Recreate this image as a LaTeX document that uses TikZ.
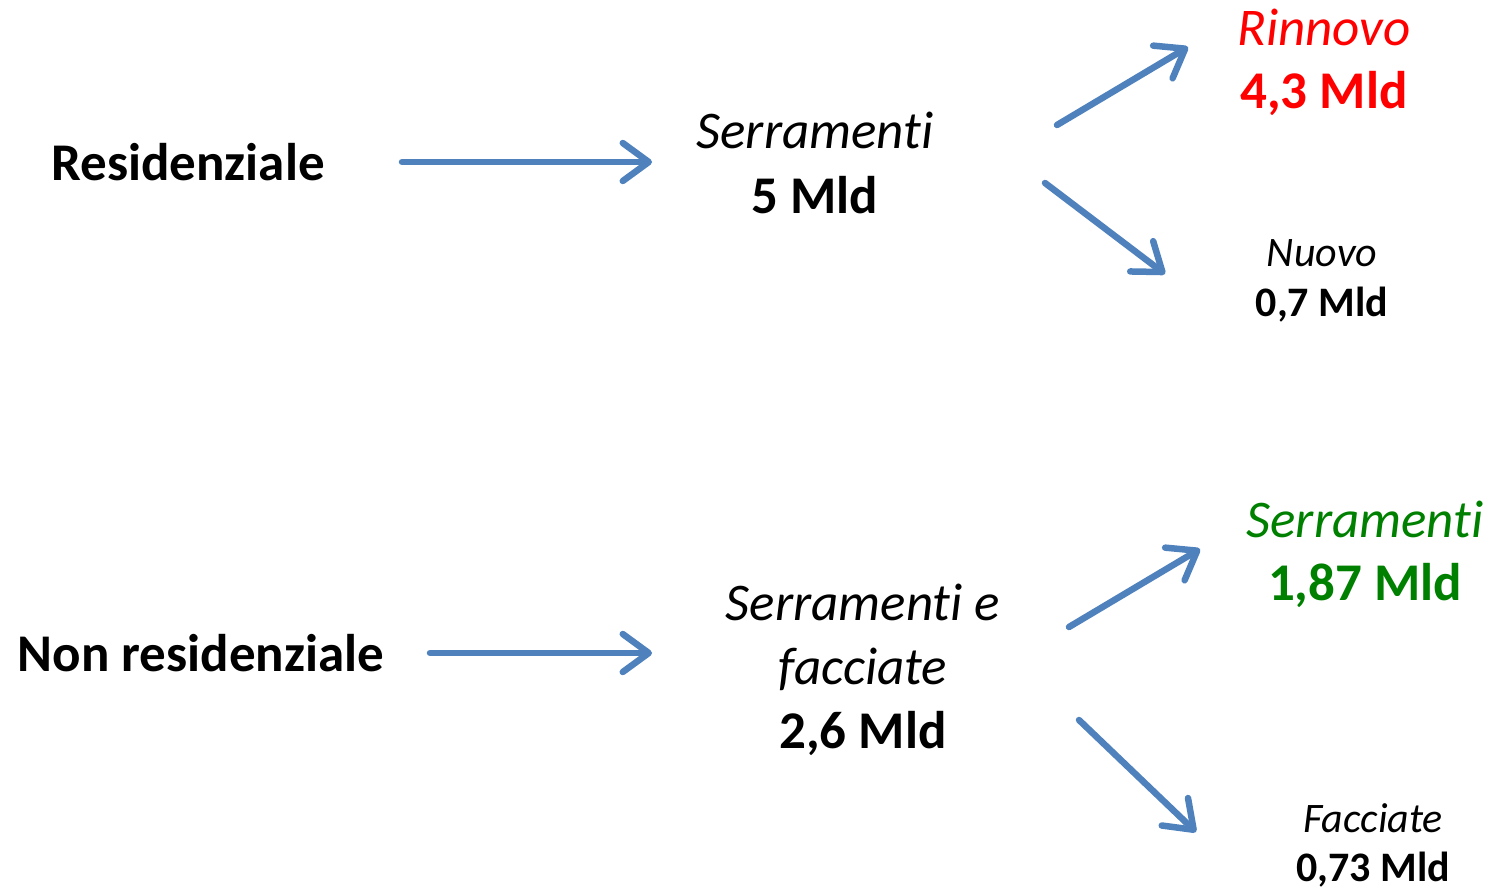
\documentclass[tikz,border=0pt]{standalone}
\usepackage{fontspec}
\setmainfont{Carlito}[Ligatures=NoCommon]
\usetikzlibrary{arrows.meta}
\definecolor{flowblue}{HTML}{4F81BD}
\definecolor{darkgreen}{HTML}{008000}
\tikzset{
  flow/.style={draw=flowblue,line width=6.5pt,line cap=round,
    -{Straight Barb[length=26pt,width=38pt,line cap=round,line join=round]}},
  big/.style={anchor=base,font=\fontsize{53}{60}\selectfont},
  small/.style={anchor=base,font=\fontsize{42}{48}\selectfont}
}
\begin{document}
\begin{tikzpicture}[x=1pt,y=-1pt]
  \useasboundingbox (0,0) rectangle (1493,888);
  % residenziale
  \node[big] (res) at (188,180) {\bfseries Residenziale};
  \node[big] (ser) at (815,148) {\itshape Serramenti};
  \node[big] (serv) at (815,213) {\bfseries 5 Mld};
  \node[big,red] (rin) at (1324,46) {\itshape Rinnovo};
  \node[big,red] (rinv) at (1324,109) {\bfseries 4,3 Mld};
  \node[small] (nuo) at (1322,266) {\itshape Nuovo};
  \node[small] (nuov) at (1322,316) {\bfseries 0,7 Mld};
  % non residenziale
  \node[big] (nres) at (201,671) {\bfseries Non residenziale};
  \node[big] (sf) at (863,620) {\itshape Serramenti e};
  \node[big] (sf2) at (863,684) {\itshape facciate};
  \node[big] (sfv) at (863,748) {\bfseries 2,6 Mld};
  \node[big,darkgreen] (gser) at (1365,537) {\itshape Serramenti};
  \node[big,darkgreen] (gserv) at (1365,600) {\bfseries 1,87 Mld};
  \node[small] (fac) at (1373,832) {\itshape Facciate};
  \node[small] (facv) at (1373,881) {\bfseries 0,73 Mld};
  % frecce
  \coordinate (a1) at (402,162);  \coordinate (b1) at (652,162);
  \coordinate (a2) at (1057,125); \coordinate (b2) at (1188,47);
  \coordinate (a3) at (1045,183); \coordinate (b3) at (1165,274);
  \coordinate (a4) at (430,653);  \coordinate (b4) at (652,653);
  \coordinate (a5) at (1069,627); \coordinate (b5) at (1200,549);
  \coordinate (a6) at (1079,720); \coordinate (b6) at (1196,832);
  \foreach \i in {1,...,6}
    \draw[flow] (a\i) -- (b\i);
\end{tikzpicture}
\end{document}
